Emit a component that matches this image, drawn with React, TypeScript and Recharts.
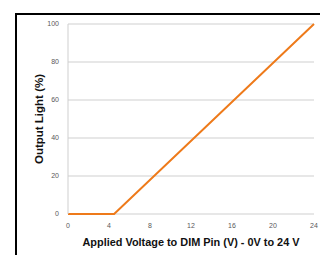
import React from 'react'
import { LineChart, Line, XAxis, YAxis, CartesianGrid, Label } from 'recharts'

const voltage = [0, 4.5, 24]
const light = [0, 0, 100]
const xTicks = [0, 4, 8, 12, 16, 20, 24]
const yTicks = [0, 20, 40, 60, 80, 100]

const data = voltage.map((v, i) => ({ v, light: light[i] }))

const tickStyle = { fontSize: 7, fill: '#595959', fontFamily: 'Liberation Sans' }

export default function App() {
  return (
    <div style={{ position: 'fixed', left: 0, top: 0, width: 320, height: 255, background: '#fff' }}>
      <div
        style={{
          position: 'absolute',
          left: 15,
          top: 13,
          right: 0,
          bottom: 0,
          borderLeft: '2px solid #000',
          borderTop: '2px solid #000',
        }}
      />
      <div style={{ position: 'absolute', left: 0, top: 0 }}>
        <LineChart width={320} height={255} data={data} margin={{ top: 24, right: 6, left: 0, bottom: 0 }}>
          <CartesianGrid vertical={false} stroke="#cfcfcf" />
          <XAxis
            type="number"
            dataKey="v"
            domain={[0, 24]}
            ticks={xTicks}
            height={41}
            axisLine={false}
            tickLine={false}
            tickSize={0}
            tickMargin={9}
            tick={tickStyle}
          >
            <Label
              value="Applied Voltage to DIM Pin (V) - 0V to 24 V"
              position="insideBottom"
              offset={9}
              style={{ fontSize: 10.9, fontWeight: 'bold', fill: '#111', fontFamily: 'Liberation Sans' }}
            />
          </XAxis>
          <YAxis
            type="number"
            domain={[0, 100]}
            ticks={yTicks}
            width={68}
            axisLine={{ stroke: '#cfcfcf' }}
            tickLine={false}
            tickSize={0}
            tickMargin={9}
            tick={tickStyle}
          >
            <Label
              value="Output Light (%)"
              angle={-90}
              position="center"
              dx={5}
              style={{ fontSize: 11.5, fontWeight: 'bold', fill: '#111', fontFamily: 'Liberation Sans' }}
            />
          </YAxis>
          <Line
            type="linear"
            dataKey="light"
            stroke="#EE7A1A"
            strokeWidth={2}
            dot={false}
            isAnimationActive={false}
          />
        </LineChart>
      </div>
    </div>
  )
}
